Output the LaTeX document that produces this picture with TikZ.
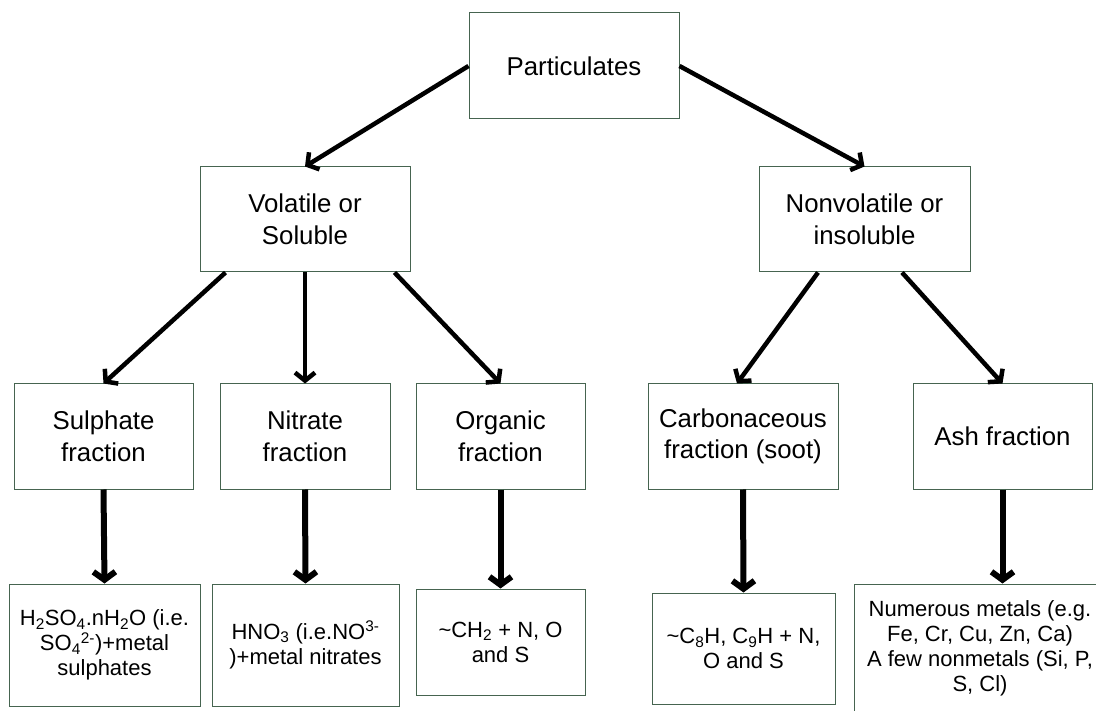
\documentclass[tikz,border=0pt]{standalone}
\usepackage{fontspec}
\setmainfont{Liberation Sans}
\usetikzlibrary{arrows.meta}
\definecolor{boxc}{RGB}{70,100,80}
\tikzset{
  box/.style={draw=boxc, line width=1pt, align=center, inner sep=0pt, fill=white,
    font=\fontsize{25.8}{31.5}\selectfont},
  sbox/.style={box, font=\fontsize{22}{25}\selectfont},
  conn/.style={line width=4.5pt, -{Straight Barb[length=8pt,width=20pt]}},
  tconn/.style={line width=6pt, -{Straight Barb[length=8pt,width=22pt]}},
}
\begin{document}
\begin{tikzpicture}[x=1pt,y=-1pt]
\clip (0,0) rectangle (1096,711);
\fill[white] (0,0) rectangle (1096,711);
% level 0
\node[box, minimum width=210, minimum height=106] (p) at (574,66) {Particulates};
% level 1
\node[box, minimum width=210, minimum height=105] (vol) at (305,219.5) {Volatile or\\Soluble};
\node[box, minimum width=211, minimum height=105] (nv) at (864.5,219.5) {Nonvolatile or\\insoluble};
% level 2
\node[box, minimum width=179, minimum height=105] (sul) at (103.5,436.5) {Sulphate\\fraction};
\node[box, minimum width=170, minimum height=105] (nit) at (305,436.5) {Nitrate\\fraction};
\node[box, minimum width=169, minimum height=105] (org) at (500.5,436.5) {Organic\\fraction};
\node[box, minimum width=190, minimum height=105] (carb) at (743,436.5) {Carbonaceous\\fraction (soot)};
\node[box, minimum width=179, minimum height=105] (ash) at (1002.5,436.5) {Ash fraction};
% level 3
\node[sbox, minimum width=191, minimum height=122] (h2) at (104.5,645)
  {H\textsubscript{2}SO\textsubscript{4}.nH\textsubscript{2}O (i.e.\\SO\textsubscript{4}\textsuperscript{2-})+metal\\sulphates};
\node[sbox, minimum width=187, minimum height=122] (hn) at (305.5,645)
  {HNO\textsubscript{3} (i.e.NO\textsuperscript{3-}\\)+metal nitrates};
\node[sbox, minimum width=169, minimum height=106] (ch) at (500.5,642)
  {\textasciitilde CH\textsubscript{2} + N, O\\and S};
\node[sbox, minimum width=183, minimum height=111] (c8) at (743.5,648.5)
  {\textasciitilde C\textsubscript{8}H, C\textsubscript{9}H + N,\\O and S};
\node[sbox, minimum width=252, minimum height=128] (ashb) at (980,648)
  {Numerous metals (e.g.\\Fe, Cr, Cu, Zn, Ca)\\A few nonmetals (Si, P,\\S, Cl)};
% connectors
\draw[conn] (p.west) -- (vol.north);
\draw[conn] (p.east) -- (nv.north);
\draw[conn] ([xshift=26]vol.south west) -- (sul.north);
\draw[conn] (vol.south) -- (nit.north);
\draw[conn] ([xshift=-16]vol.south east) -- (org.north);
\draw[conn] ([xshift=-46.5]nv.south) -- ([xshift=-6]carb.north);
\draw[conn] ([xshift=37.5]nv.south) -- (ash.north);
\draw[tconn] (sul.south) -- (h2.north);
\draw[tconn] (nit.south) -- (hn.north);
\draw[tconn] (org.south) -- (ch.north);
\draw[tconn] (carb.south) -- (c8.north);
\draw[tconn] (ash.south) -- ([xshift=22.5]ashb.north);
\end{tikzpicture}
\end{document}
